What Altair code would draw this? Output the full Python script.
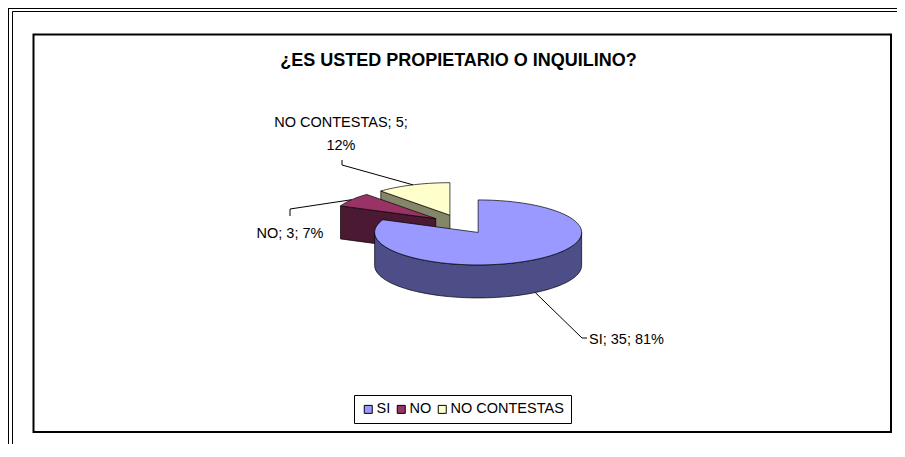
import numpy as np
import pandas as pd
import altair as alt

# ---- data ----
categories = ["SI", "NO", "NO CONTESTAS"]
values = [35, 3, 5]
title_text = "¿ES USTED PROPIETARIO O INQUILINO?"

# ---- style / geometry (page pixels) ----
top_colors = ["#9999FF", "#993366", "#FFFFCC"]
side_colors = ["#4D4D88", "#4C1933", "#85856A"]
FONT = "Liberation Sans"
W, H = 889, 436
OX, OY = 8, 8
CX, CY = 461.0, 224.3
RX, RY = 103.5, 32.5
DEPTH = 33
EXPLODE = 0.30

label_layout = {
    "SI": dict(tx=589, ty=344, align="left", elbow=[(582, 338), (587, 338)], wrap=False),
    "NO": dict(tx=290, ty=238, align="center", elbow=[(290, 209), (290, 216)], wrap=False),
    "NO CONTESTAS": dict(tx=341, ty=127, align="center", elbow=[(342, 165), (342, 160)], wrap=True),
}

total = float(sum(values))
fracs = np.array(values) / total
ends = np.cumsum(fracs) * 360.0
starts = ends - fracs * 360.0
mids = (starts + ends) / 2


def ell(cx, cy, a, s=1.0, dy=0.0):
    r = np.radians(a)
    return cx + s * RX * np.sin(r), cy - s * RY * np.cos(r) + dy


poly_rows = []
poly_order = []


def add_poly(points, fill, cat, is_top):
    pid = len(poly_order)
    for i, (x, y) in enumerate(points):
        poly_rows.append(dict(pid=pid, i=i, x=x, y=y, fill=fill, cat=cat))
    poly_order.append((pid, is_top))


centers = {}
for k in range(len(values)):
    centers[k] = ell(CX, CY, mids[k], s=EXPLODE)

draw_order = sorted(range(len(values)), key=lambda k: -np.cos(np.radians(mids[k])))
for k in draw_order:
    a0, a1 = starts[k], ends[k]
    cx, cy = centers[k]
    for a, n in ((a0, a0 - 90), (a1, a1 + 90)):
        if np.cos(np.radians(n)) < -0.02:
            rx_, ry_ = ell(cx, cy, a)
            pts = [(cx, cy), (rx_, ry_), (rx_, ry_ + DEPTH), (cx, cy + DEPTH), (cx, cy)]
            add_poly(pts, side_colors[k], categories[k], False)
    lo, hi = max(a0, 90), min(a1, 270)
    if hi > lo:
        angs = np.linspace(lo, hi, int((hi - lo) / 2) + 2)
        topp = [ell(cx, cy, a) for a in angs]
        botp = [ell(cx, cy, a, dy=DEPTH) for a in angs[::-1]]
        add_poly(topp + botp + [topp[0]], side_colors[k], categories[k], False)
    angs = np.linspace(a0, a1, int((a1 - a0) / 2) + 2)
    pts = [(cx, cy)] + [ell(cx, cy, a) for a in angs] + [(cx, cy)]
    add_poly(pts, top_colors[k], categories[k], True)

poly_df = pd.DataFrame(poly_rows)

lead_rows, lab_rows = [], []
for k, cat in enumerate(categories):
    lay = label_layout[cat]
    cx, cy = centers[k]
    front = -np.cos(np.radians(mids[k])) > 0
    rim = ell(cx, cy, mids[k], dy=DEPTH if front else 0.0)
    for i, (x, y) in enumerate([rim] + lay["elbow"]):
        lead_rows.append(dict(cat=cat, i=i, x=x, y=y))
    pct = int(round(values[k] / total * 100))
    sep = ";\n" if lay["wrap"] else "; "
    txt = f"{cat}; {values[k]}{sep}{pct}%"
    lab_rows.append(dict(cat=cat, x=lay["tx"], y=lay["ty"], txt=txt, align=lay["align"]))
lead_df = pd.DataFrame(lead_rows)
lab_df = pd.DataFrame(lab_rows)

xs = alt.Scale(domain=[OX, OX + W], nice=False, zero=False)
ys = alt.Scale(domain=[OY, OY + H], nice=False, zero=False, reverse=True)
X = lambda: alt.X("x:Q", scale=xs, axis=None)
Y = lambda: alt.Y("y:Q", scale=ys, axis=None)

legend = alt.Legend(
    title=None, orient="none", legendX=346, legendY=387, direction="horizontal",
    symbolType="square", symbolSize=64, symbolStrokeColor="black", symbolStrokeWidth=1,
    labelFont=FONT, labelFontSize=14.5, labelColor="black", labelOffset=1,
    columnPadding=3, padding=7, strokeColor="black", fillColor="white", cornerRadius=0,
)
color_scale = alt.Scale(domain=categories, range=top_colors)

one = pd.DataFrame({"a": [0]})
layers = [
    alt.Chart(one).mark_rule(color="black", strokeWidth=1).encode(
        x=alt.value(0.5), y=alt.value(0), y2=alt.value(H)),
    alt.Chart(one).mark_rule(color="black", strokeWidth=1).encode(
        x=alt.value(4.5), y=alt.value(3.5), y2=alt.value(H)),
    alt.Chart(one).mark_rule(color="black", strokeWidth=1).encode(
        y=alt.value(0.5), x=alt.value(0), x2=alt.value(W)),
    alt.Chart(one).mark_rule(color="black", strokeWidth=1).encode(
        y=alt.value(3.5), x=alt.value(4.5), x2=alt.value(W)),
    alt.Chart(one).mark_rect(fill="white", stroke="black", strokeWidth=2).encode(
        x=alt.value(25.5), x2=alt.value(883), y=alt.value(26.5), y2=alt.value(424)),
]

for pid, is_top in poly_order:
    base = alt.Chart(poly_df).transform_filter(alt.datum.pid == pid).mark_line(
        filled=True, stroke="black", strokeWidth=0.7, strokeJoin="round")
    if is_top:
        enc = base.encode(x=X(), y=Y(), order=alt.Order("i:Q"),
                          color=alt.Color("cat:N", scale=color_scale, legend=legend))
    else:
        enc = base.encode(x=X(), y=Y(), order=alt.Order("i:Q"),
                          color=alt.Color("fill:N", scale=None))
    layers.append(enc)

layers.append(alt.Chart(lead_df).mark_line(color="black", strokeWidth=1).encode(
    x=X(), y=Y(), order=alt.Order("i:Q"), detail="cat:N"))

for align in ["left", "center"]:
    layers.append(
        alt.Chart(lab_df).transform_filter(alt.datum.align == align).mark_text(
            font=FONT, fontSize=14.5, align=align, baseline="alphabetic",
            lineBreak="\n", lineHeight=23, color="black").encode(x=X(), y=Y(), text="txt:N"))

title_df = pd.DataFrame({"x": [458.5], "y": [66], "t": [title_text]})
layers.append(alt.Chart(title_df).mark_text(
    font=FONT, fontSize=18, fontWeight="bold", align="center", baseline="alphabetic",
    color="black").encode(x=X(), y=Y(), text="t:N"))

chart = alt.layer(*layers).properties(
    width=W, height=H, padding=0, autosize="none", background="white"
).configure_view(stroke=None, strokeWidth=0)

chart.save("out.html", embed_options={"renderer": "svg", "actions": False})
